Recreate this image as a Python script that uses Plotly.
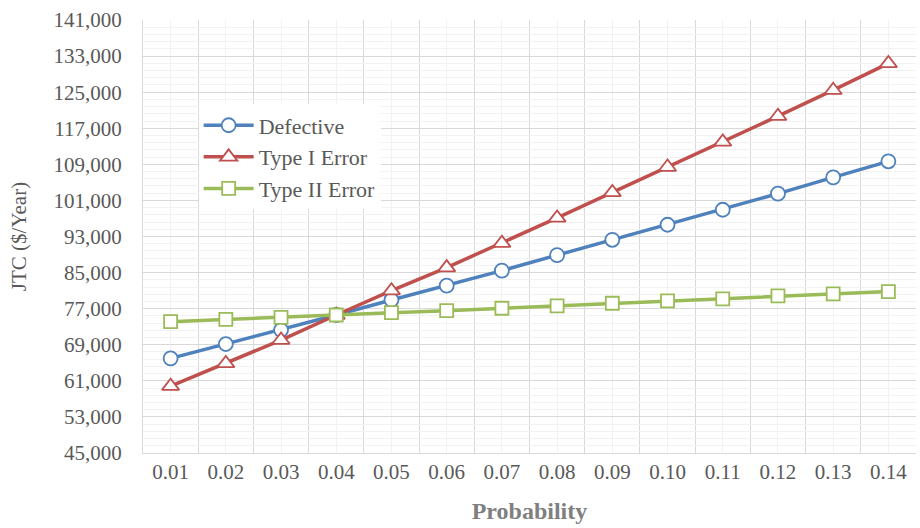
import plotly.graph_objects as go

probability = [0.01, 0.02, 0.03, 0.04, 0.05, 0.06, 0.07, 0.08, 0.09, 0.10, 0.11, 0.12, 0.13, 0.14]
tick_labels = ["0.01", "0.02", "0.03", "0.04", "0.05", "0.06", "0.07", "0.08", "0.09", "0.10", "0.11", "0.12", "0.13", "0.14"]
defective = [65980, 69160, 72270, 75600, 78930, 82110, 85440, 88870, 92270, 95600, 98930, 102500, 106110, 109670]
type1_error = [59820, 64870, 70040, 75600, 81000, 86110, 91530, 97130, 102780, 108400, 113980, 119670, 125440, 131380]
type2_error = [74110, 74640, 75090, 75600, 76110, 76560, 77090, 77600, 78200, 78710, 79160, 79820, 80270, 80780]

series = [
    ("Defective", defective, "#4F81BD", "circle", 14),
    ("Type I Error", type1_error, "#C0504D", "triangle-up", 15),
    ("Type II Error", type2_error, "#9BBB59", "square", 13),
]

fig = go.Figure()
for name, vals, color, sym, size in series:
    fig.add_trace(go.Scatter(
        x=probability, y=vals, name=name, mode="lines+markers",
        line=dict(color=color, width=3.5),
        marker=dict(symbol=sym, size=size, color="white", line=dict(color=color, width=1.8)),
    ))

step = 0.01
boundaries = [round(probability[0] - step / 2 + i * step, 4) for i in range(len(probability) + 1)]

font_family = "Liberation Serif, Times New Roman, serif"
fig.update_layout(
    width=920, height=528,
    margin=dict(l=143, r=4, t=20, b=75),
    paper_bgcolor="white", plot_bgcolor="white",
    font=dict(family=font_family, size=21, color="#595959"),
    showlegend=True,
    legend=dict(
        x=0.072, y=0.805, xanchor="left", yanchor="top",
        bgcolor="white", font=dict(family=font_family, size=22, color="#595959"),
        itemwidth=50, tracegroupgap=0,
    ),
    xaxis=dict(
        range=[boundaries[0], boundaries[-1]],
        tickmode="array", tickvals=probability, ticktext=tick_labels,
        showgrid=True, gridcolor="#F2F2F2", gridwidth=1,
        minor=dict(tickmode="array", tickvals=boundaries, showgrid=True, gridcolor="#D9D9D9", gridwidth=1),
        showline=True, linecolor="#D9D9D9", linewidth=1,
        zeroline=False, ticks="",
        tickfont=dict(family=font_family, size=21, color="#595959"),
        title=dict(text="<b>Probability</b>", font=dict(family=font_family, size=24, color="#7F7F7F"), standoff=18),
    ),
    yaxis=dict(
        range=[45000, 141000], tickmode="linear", tick0=45000, dtick=8000,
        tickformat=",d",
        showgrid=True, gridcolor="#D9D9D9", gridwidth=1,
        minor=dict(tick0=45000, dtick=1600, showgrid=True, gridcolor="#F2F2F2", gridwidth=1),
        showline=True, linecolor="#D9D9D9", linewidth=1,
        zeroline=False, ticks="", ticklabelstandoff=16,
        tickfont=dict(family=font_family, size=21, color="#595959"),
        title=dict(text="JTC ($/Year)", font=dict(family=font_family, size=21, color="#595959"), standoff=21),
    ),
)

fig.write_html("out.html")
